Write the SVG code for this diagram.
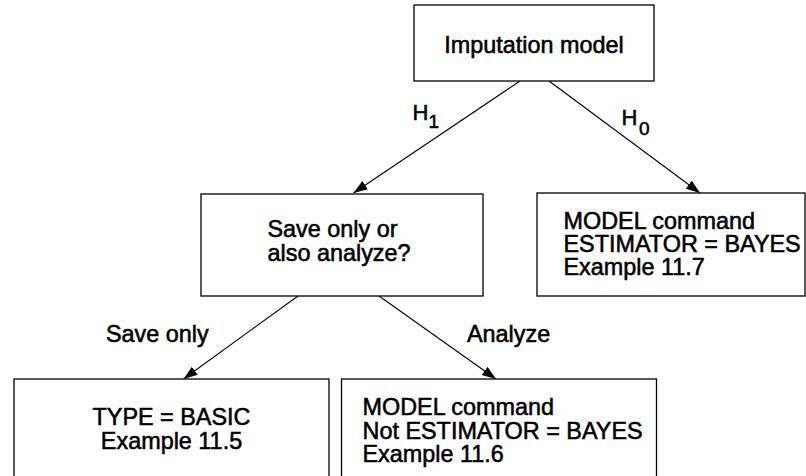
<svg xmlns="http://www.w3.org/2000/svg" width="806" height="476" viewBox="0 0 806 476">
  <style>
    .box { fill: #ffffff; stroke: #000000; stroke-width: 1.3; }
    .t, .lbl, .h { font-family: "Liberation Sans", Arial, sans-serif; fill: #000000; stroke: #000000; stroke-width: 0.55; }
    .t, .lbl { font-size: 23.4px; }
    .h { font-size: 22px; }
    .sub { font-size: 19px; }
    .edge { stroke: #000000; stroke-width: 1.1; fill: none; marker-end: url(#arrow); }
  </style>
  <defs>
    <marker id="arrow" markerUnits="userSpaceOnUse" markerWidth="15" markerHeight="11" refX="14" refY="5" orient="auto">
      <path d="M0,0 L14,5 L0,10 z" fill="#000000"/>
    </marker>
  </defs>
  <rect width="806" height="476" fill="#ffffff"/>

  <g id="connectors">
    <line class="edge" x1="520" y1="81" x2="353.5" y2="193"/>
    <line class="edge" x1="549" y1="81" x2="700" y2="193"/>
    <line class="edge" x1="298" y1="296" x2="183.5" y2="379"/>
    <line class="edge" x1="379" y1="296" x2="496" y2="379"/>
  </g>

  <g id="edge-labels">
    <text class="h" x="412.5" y="120">H<tspan class="sub" dy="8">1</tspan></text>
    <text class="h" x="621.5" y="125">H<tspan class="sub" dx="1.5" dy="10">0</tspan></text>
    <text class="lbl" x="106" y="341.7">Save only</text>
    <text class="lbl" x="467" y="341.7">Analyze</text>
  </g>

  <g id="node-imputation">
    <rect class="box" x="414" y="5" width="240" height="76"/>
    <text class="t" x="534" y="53" text-anchor="middle">Imputation model</text>
  </g>

  <g id="node-save-or-analyze">
    <rect class="box" x="201" y="194" width="282" height="102"/>
    <text class="t" x="267.5" y="237">Save only or</text>
    <text class="t" x="267.5" y="261">also analyze?</text>
  </g>

  <g id="node-bayes">
    <rect class="box" x="537" y="193" width="268" height="103"/>
    <text class="t" x="563.5" y="229">MODEL command</text>
    <text class="t" x="563.5" y="252">ESTIMATOR = BAYES</text>
    <text class="t" x="563.5" y="275">Example 11.7</text>
  </g>

  <g id="node-basic">
    <rect class="box" x="14" y="379" width="315" height="110"/>
    <text class="t" x="171.5" y="425" text-anchor="middle">TYPE = BASIC</text>
    <text class="t" x="171.5" y="449" text-anchor="middle">Example 11.5</text>
  </g>

  <g id="node-not-bayes">
    <rect class="box" x="341.5" y="379" width="315" height="110"/>
    <text class="t" x="362.5" y="415">MODEL command</text>
    <text class="t" x="362.5" y="438.5">Not ESTIMATOR = BAYES</text>
    <text class="t" x="362.5" y="462">Example 11.6</text>
  </g>
</svg>
